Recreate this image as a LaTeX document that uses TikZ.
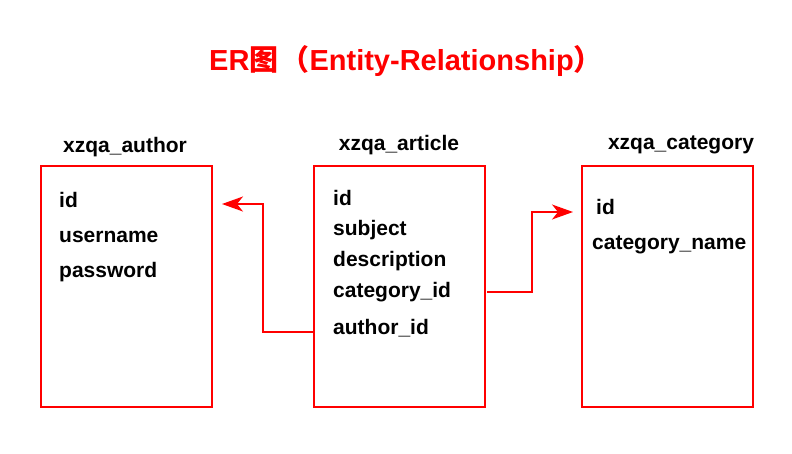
\documentclass[tikz,border=0pt]{standalone}
\usepackage{fontspec}
\setmainfont{Liberation Sans}
\newfontfamily\cjk{Noto Sans CJK SC}
\usetikzlibrary{arrows.meta,positioning}
\definecolor{erred}{RGB}{255,0,0}
\tikzset{
  entity/.style={draw=erred, line width=2pt, minimum width=171pt, minimum height=241pt, inner sep=0pt},
  tablename/.style={font=\fontsize{21}{24}\selectfont\bfseries, inner sep=0pt},
  field/.style={font=\fontsize{21}{24}\selectfont\bfseries, anchor=west, inner sep=0pt},
  fk/.style={draw=erred, line width=1.6pt, -{Stealth[length=21pt,width=15pt,inset=6pt]}}
}
\begin{document}
\begin{tikzpicture}[x=1pt,y=-1pt]
\useasboundingbox (0,0) rectangle (792,453);
% title
\node[font=\fontsize{29}{32}\selectfont\bfseries, text=erred, inner sep=0pt] (title) at (406,61)
  {ER{\cjk 图}\hspace{2pt}{\cjk （}Entity-Relationship{\cjk ）}};
% tables
\node[entity] (author) at (126.5,286.5) {};
\node[entity] (article) at (399,286.5) {};
\node[entity] (category) at (667.5,286.5) {};
\node[tablename] (author_name) at (125,147) {xzqa\_author};
\node[tablename] (article_name) at (399,145) {xzqa\_article};
\node[tablename] (category_name) at (681,145) {xzqa\_category};
% fields
\node[field] (aut_id) at (59,200) {id};
\node[field] (aut_user) at (59,237) {username};
\node[field] (aut_pass) at (59,272) {password};
\node[field] (art_id) at (333,198) {id};
\node[field] (art_subject) at (333,230) {subject};
\node[field] (art_desc) at (333,261) {description};
\node[field] (art_cat) at (333,292) {category\_id};
\node[field] (art_aut) at (333,328) {author\_id};
\node[field] (cat_id) at (596,207) {id};
\node[field] (cat_name) at (592,245) {category\_name};
% relations
\coordinate (aut_in) at (222,204);
\coordinate (cat_in) at (573,212);
\coordinate (art_out_a) at (314,332);
\coordinate (art_out_c) at (487,292);
\draw[fk] (art_out_a) -- (263,332) |- (aut_in);
\draw[fk] (art_out_c) -- (532,292) |- (cat_in);
\end{tikzpicture}
\end{document}
